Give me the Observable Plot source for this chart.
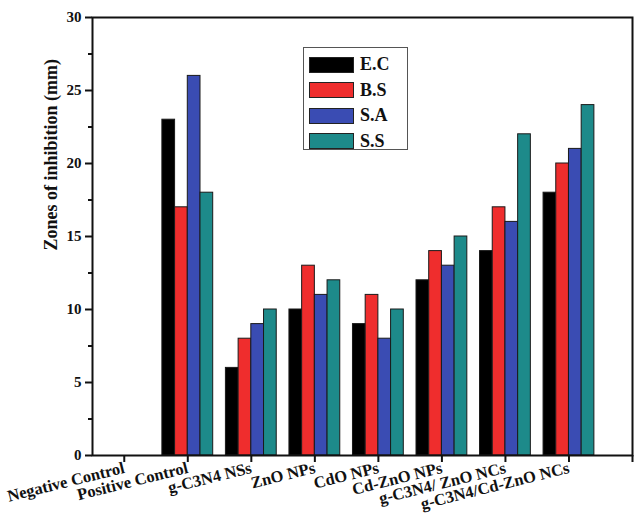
<!DOCTYPE html>
<html>
<head>
<meta charset="utf-8">
<script src="https://cdn.jsdelivr.net/npm/d3@7"></script>
<script src="https://cdn.jsdelivr.net/npm/@observablehq/plot@0.6"></script>
<style>
  body { margin: 0; background: #fff; }
  #wrap { position: relative; width: 634px; height: 519px; font-family: "Liberation Serif", serif; }
  #legend { position: absolute; left: 303px; top: 47px; width: 105px; height: 103px; border: 1.5px solid #555; box-sizing: border-box; background: #fff; padding: 4px 0 0 5px; }
  .row { display: flex; align-items: center; height: 25.5px; }
  .sw { width: 45px; height: 16px; border: 1px solid #222; box-sizing: border-box; margin-right: 6px; }
  .lb { font-weight: bold; font-size: 18px; color: #111; }
</style>
</head>
<body>
<div id="wrap"></div>
<script>
const categories = ["Negative Control", "Positive Control", "g-C3N4 NSs", "ZnO NPs", "CdO NPs", "Cd-ZnO NPs", "g-C3N4/ ZnO NCs", "g-C3N4/Cd-ZnO NCs"];
const series = ["E.C", "B.S", "S.A", "S.S"];
const EC = [0, 23, 6, 10, 9, 12, 14, 18];
const BS = [0, 17, 8, 13, 11, 14, 17, 20];
const SA = [0, 26, 9, 11, 8, 13, 16, 21];
const SS = [0, 18, 10, 12, 10, 15, 22, 24];
const colors = ["#000000", "#ef2d2d", "#3a4cb3", "#1d8a8a"];
const yTicks = [0, 5, 10, 15, 20, 25, 30];
const yMinor = [2.5, 7.5, 12.5, 17.5, 22.5, 27.5];
const yTitle = "Zones of inhibition (mm)";

const seriesValues = [EC, BS, SA, SS];
const data = [];
categories.forEach((c, i) => {
  series.forEach((s, j) => {
    data.push({i, j, cat: c, series: s, v: seriesValues[j][i]});
  });
});

const plot = Plot.plot({
  width: 634,
  height: 519,
  marginLeft: 92,
  marginTop: 17,
  marginRight: 2,
  marginBottom: 64,
  style: {fontFamily: "Liberation Serif", fontWeight: "bold", fontSize: "15px", color: "#111", background: "#fff"},
  x: {type: "linear", domain: [-0.5, 8]},
  y: {domain: [0, 30]},
  color: {domain: series, range: colors},
  marks: [
    Plot.rect(data, {
      x1: d => d.i - 0.4 + 0.2 * d.j,
      x2: d => d.i - 0.2 + 0.2 * d.j,
      y1: () => 0,
      y2: "v",
      fill: "series",
      stroke: "#1a1a1a",
      strokeWidth: 1
    }),
    Plot.frame({stroke: "#111", strokeWidth: 2}),
    Plot.axisY({ticks: yTicks, tickSize: 7, tickPadding: 4, strokeWidth: 2, fontSize: 15, label: null}),
    Plot.axisY({ticks: yMinor, tickSize: 4, strokeWidth: 2, text: null, label: null}),
    Plot.text([yTitle], {frameAnchor: "left", rotate: -90, dx: -41, dy: 14, fontSize: 18, fontWeight: "bold", fill: "#111"}),
    Plot.axisX({ticks: d3.range(categories.length), tickFormat: i => categories[i], tickSize: 7,
      tickPadding: 5, tickRotate: -14, strokeWidth: 2, fontSize: 16.5, label: null}),
    Plot.axisX({ticks: [8], tickSize: 7, strokeWidth: 2, text: null, label: null})
  ]
});

const wrap = document.getElementById("wrap");
wrap.appendChild(plot);

const legend = document.createElement("div");
legend.id = "legend";
series.forEach((s, j) => {
  const row = document.createElement("div");
  row.className = "row";
  const sw = document.createElement("div");
  sw.className = "sw";
  sw.style.background = colors[j];
  const lb = document.createElement("span");
  lb.className = "lb";
  lb.textContent = s;
  row.appendChild(sw);
  row.appendChild(lb);
  legend.appendChild(row);
});
wrap.appendChild(legend);
</script>
</body>
</html>
